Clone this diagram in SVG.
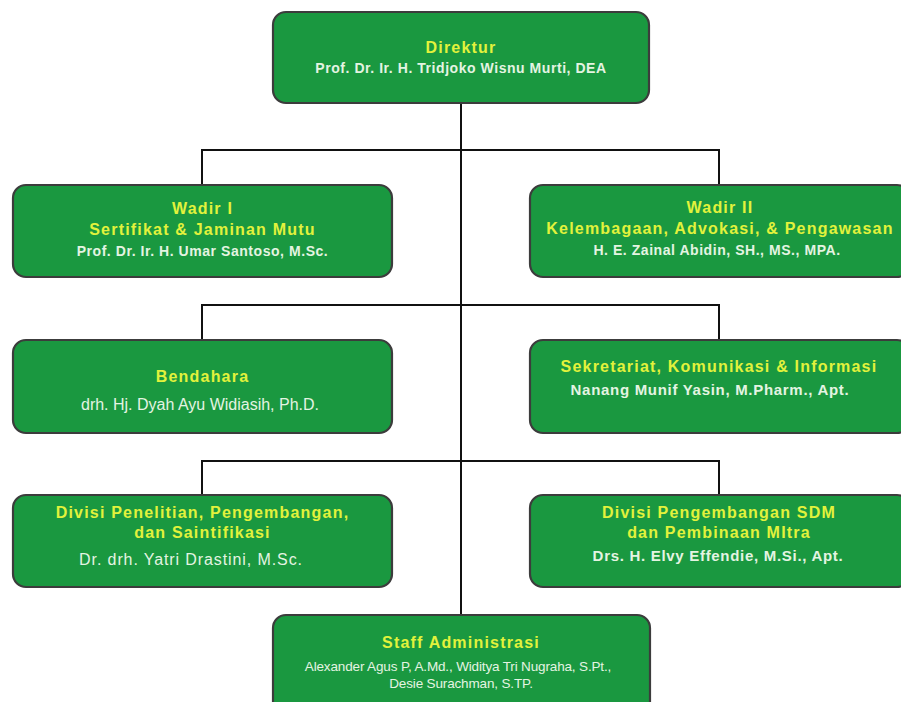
<svg xmlns="http://www.w3.org/2000/svg" width="901" height="702" viewBox="0 0 901 702">
<style>
.box{fill:#1a9840;stroke:#3c3c3c;stroke-width:2.2}
.t{font-family:"Liberation Sans",Arial,sans-serif;font-weight:bold;font-size:16px;letter-spacing:1.2px;fill:#e2f23c;text-anchor:middle}
.n{font-family:"Liberation Sans",Arial,sans-serif;font-weight:bold;font-size:14px;letter-spacing:0.55px;fill:#e4f4e2;text-anchor:middle}
.n2{font-family:"Liberation Sans",Arial,sans-serif;font-weight:bold;font-size:15px;letter-spacing:0.7px;fill:#e4f4e2;text-anchor:middle}
.r{font-family:"Liberation Sans",Arial,sans-serif;font-size:16px;fill:#e4f4e2;text-anchor:middle}
.s{font-family:"Liberation Sans",Arial,sans-serif;font-size:13.5px;fill:#e4f4e2;text-anchor:middle;letter-spacing:-0.15px}
.c{fill:none;stroke:#111;stroke-width:2}
</style>
<rect width="901" height="702" fill="#fff"/>
<g id="connectors">
<line class="c" x1="461" y1="103" x2="461" y2="615"/>
<polyline class="c" points="202,185 202,150 719,150 719,185"/>
<polyline class="c" points="202,340 202,305 719,305 719,340"/>
<polyline class="c" points="202,495 202,461 719,461 719,495"/>
</g>
<g id="direktur">
<rect class="box" x="273" y="12" width="376" height="91" rx="13"/>
<text class="t" x="461" y="53">Direktur</text>
<text class="n" x="461" y="73">Prof. Dr. Ir. H. Tridjoko Wisnu Murti, DEA</text>
</g>
<g id="wadir1">
<rect class="box" x="13" y="185" width="379" height="92" rx="13"/>
<text class="t" x="202.5" y="214">Wadir I</text>
<text class="t" x="202.5" y="235">Sertifikat &amp; Jaminan Mutu</text>
<text class="n" x="202.5" y="256">Prof. Dr. Ir. H. Umar Santoso, M.Sc.</text>
</g>
<g id="wadir2">
<rect class="box" x="530" y="185" width="380" height="92" rx="13"/>
<text class="t" x="720" y="213">Wadir II</text>
<text class="t" x="720" y="234">Kelembagaan, Advokasi, &amp; Pengawasan</text>
<text class="n" x="717" y="255">H. E. Zainal Abidin, SH., MS., MPA.</text>
</g>
<g id="bendahara">
<rect class="box" x="13" y="340" width="379" height="93" rx="13"/>
<text class="t" x="202.5" y="382">Bendahara</text>
<text class="r" x="200" y="410">drh. Hj. Dyah Ayu Widiasih, Ph.D.</text>
</g>
<g id="sekretariat">
<rect class="box" x="530" y="340" width="380" height="93" rx="13"/>
<text class="t" x="719" y="372">Sekretariat, Komunikasi &amp; Informasi</text>
<text class="n2" x="710" y="395">Nanang Munif Yasin, M.Pharm., Apt.</text>
</g>
<g id="divisi-penelitian">
<rect class="box" x="13" y="495" width="379" height="92" rx="13"/>
<text class="t" x="202.5" y="518">Divisi Penelitian, Pengembangan,</text>
<text class="t" x="202.5" y="538">dan Saintifikasi</text>
<text class="r" x="191" y="565" style="letter-spacing:0.9px">Dr. drh. Yatri Drastini, M.Sc.</text>
</g>
<g id="divisi-sdm">
<rect class="box" x="530" y="495" width="380" height="92" rx="13"/>
<text class="t" x="719" y="518">Divisi Pengembangan SDM</text>
<text class="t" x="719" y="538">dan Pembinaan MItra</text>
<text class="n2" x="718" y="561">Drs. H. Elvy Effendie, M.Si., Apt.</text>
</g>
<g id="staff">
<rect class="box" x="273" y="615" width="377" height="100" rx="13"/>
<text class="t" x="461" y="648">Staff Administrasi</text>
<text class="s" x="458" y="671">Alexander Agus P, A.Md., Widitya Tri Nugraha, S.Pt.,</text>
<text class="s" x="461" y="688">Desie Surachman, S.TP.</text>
</g>
</svg>
